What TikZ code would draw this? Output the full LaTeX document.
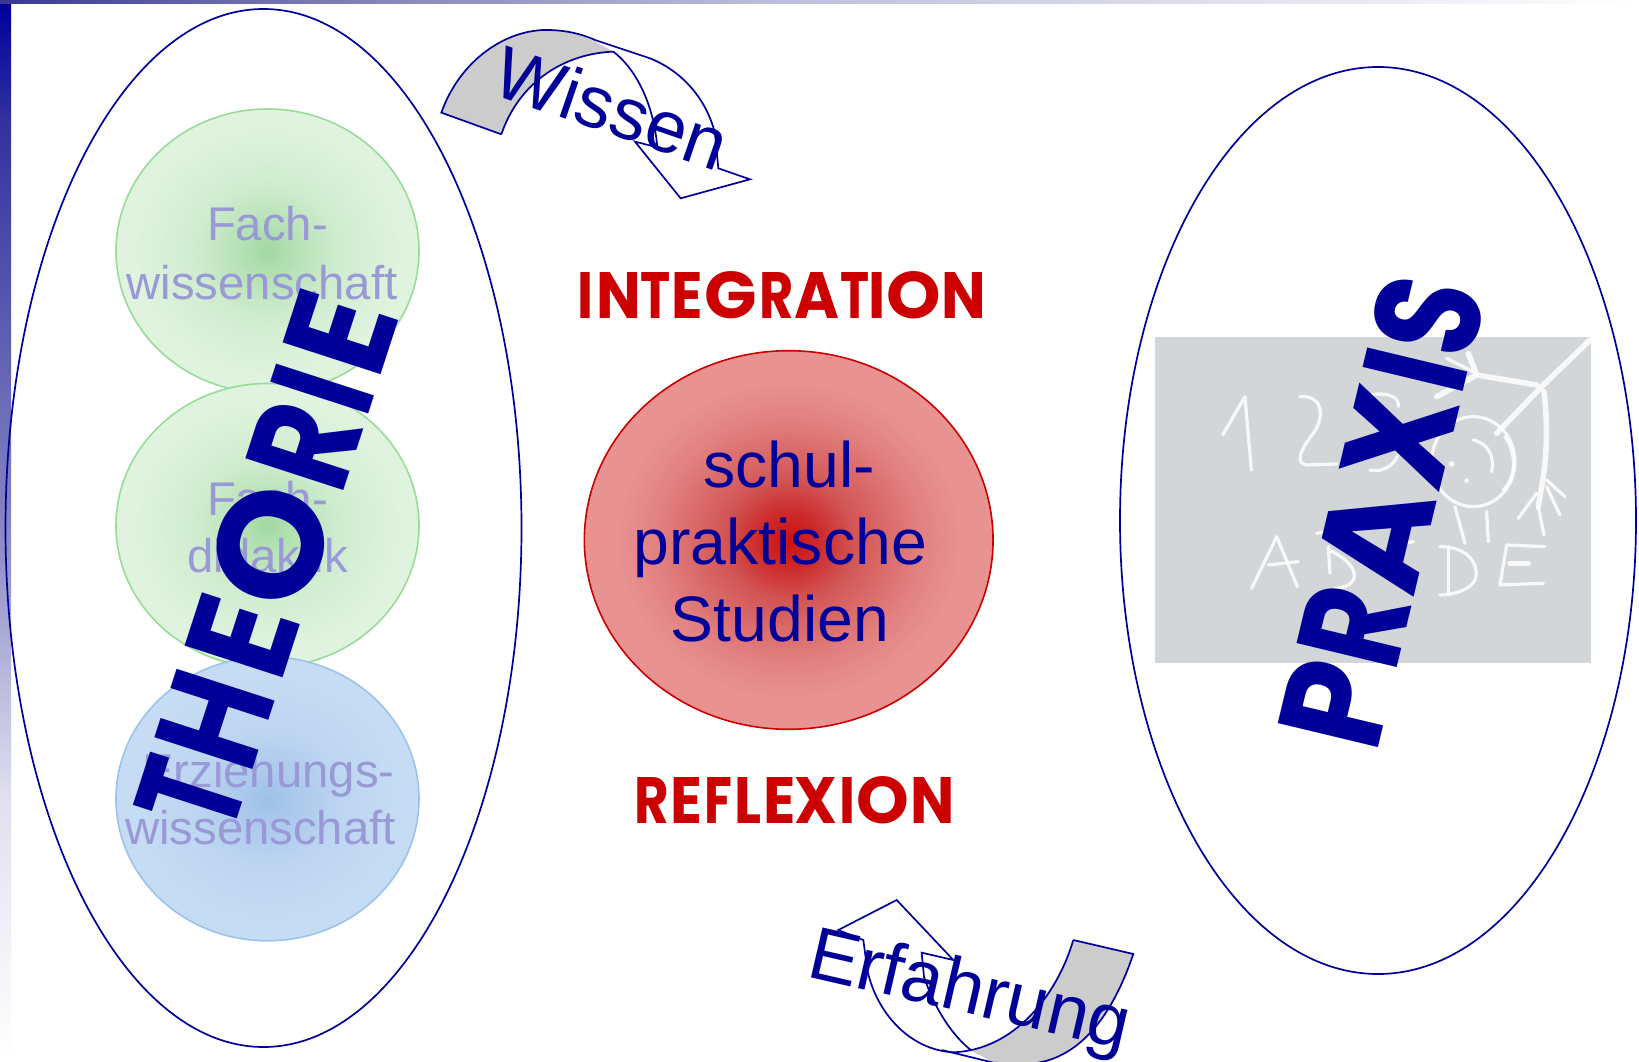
\documentclass[tikz,border=0pt]{standalone}
\usepackage{fontspec}
\setmainfont{Liberation Sans}
\newfontfamily\futfont{Poppins}
\usetikzlibrary{shapes.geometric}
\definecolor{navy}{RGB}{0,0,153}
\definecolor{redt}{RGB}{204,0,0}
\definecolor{fainttext}{RGB}{153,153,214}
\definecolor{gc}{RGB}{163,216,163}
\definecolor{gm}{RGB}{182,226,182}
\definecolor{gn}{RGB}{208,236,208}
\definecolor{go}{RGB}{223,243,223}
\definecolor{gb}{RGB}{153,220,153}
\definecolor{bc}{RGB}{158,192,232}
\definecolor{bm}{RGB}{172,202,236}
\definecolor{bn}{RGB}{188,213,241}
\definecolor{bo}{RGB}{198,220,244}
\definecolor{bb}{RGB}{155,195,235}
\definecolor{rc}{RGB}{204,16,16}
\definecolor{rm}{RGB}{205,45,45}
\definecolor{rl}{RGB}{210,85,85}
\definecolor{rn}{RGB}{226,128,128}
\definecolor{ro}{RGB}{232,146,146}
\definecolor{board}{RGB}{210,214,216}
\definecolor{arrowgray}{RGB}{204,204,204}
\definecolor{b0}{RGB}{0,0,153}
\definecolor{b1}{RGB}{50,50,160}
\definecolor{b2}{RGB}{128,128,192}
\definecolor{b3}{RGB}{225,225,240}
\definecolor{t0}{RGB}{55,55,150}
\definecolor{t1}{RGB}{100,100,170}
\definecolor{t2}{RGB}{140,140,190}
\definecolor{t3}{RGB}{190,190,220}
\pgfdeclareradialshading{gshade}{\pgfpoint{0bp}{0bp}}{color(0bp)=(gc);color(5bp)=(gm);color(12bp)=(gn);color(22bp)=(go);color(50bp)=(go)}
\pgfdeclareradialshading{bshade}{\pgfpoint{0bp}{0bp}}{color(0bp)=(bc);color(5bp)=(bm);color(12bp)=(bn);color(22bp)=(bo);color(50bp)=(bo)}
\pgfdeclareradialshading{rshade}{\pgfpoint{0bp}{0bp}}{color(0bp)=(rc);color(4bp)=(rm);color(8bp)=(rl);color(16bp)=(rn);color(21bp)=(ro);color(50bp)=(ro)}
\pgfdeclareverticalshading{leftbar}{100bp}{color(0bp)=(white);color(25bp)=(white);color(37.35bp)=(b3);color(51.5bp)=(b2);color(69.35bp)=(b1);color(75bp)=(b0);color(100bp)=(b0)}
\pgfdeclarehorizontalshading{topbar}{100bp}{color(0bp)=(t0);color(25bp)=(t0);color(31.1bp)=(t1);color(37.8bp)=(t2);color(48.8bp)=(t3);color(75bp)=(white);color(100bp)=(white)}
% one letter fitted by its ink: start, end, height, letter
\newcommand\fitlet[4]{\rlap{\kern#1pt\pgfmathsetmacro\letw{#2-#1}\resizebox{\letw pt}{#3pt}{\kern-\XeTeXglyphbounds1 \XeTeXcharglyph`#4\relax #4\kern-\XeTeXglyphbounds3 \XeTeXcharglyph`#4\relax}}}
\tikzset{
  bigring/.style={ellipse,draw=navy,line width=1.7pt,inner sep=0pt,minimum width=516pt},
  ball/.style={ellipse,shade,line width=1.6pt,inner sep=0pt,minimum width=303pt,minimum height=284pt},
  faint/.style={text=fainttext,font=\fontsize{47.3}{56}\selectfont,inner sep=0pt,anchor=base},
  navytext/.style={text=navy,font=\fontsize{64.3}{70}\selectfont,inner sep=0pt,anchor=base},
  redhead/.style={text=redt,font=\futfont\bfseries\fontsize{66}{70}\selectfont,inner sep=0pt,anchor=base west},
  bighead/.style={text=navy,font=\futfont\bfseries\fontsize{147}{150}\selectfont,inner sep=0pt,anchor=base west},
  curvy/.style={text=navy,inner sep=0pt,anchor=base west},
  arrowline/.style={draw=navy,line width=1.7pt,line join=miter},
  chalk/.style={draw=white,opacity=.85,line width=3.2pt,line cap=round,line join=round},
  chalkthick/.style={chalk,line width=5.5pt},
}
\begin{document}
\begin{tikzpicture}[x=1pt,y=-1pt]
\useasboundingbox (0,0) rectangle (1639,1062);
\fill[white] (0,0) rectangle (1639,1062);
% slide bars
\shade[shading=leftbar] (0,4) rectangle (11,1062);
\shade[shading=topbar] (0,0) rectangle (1639,4);
% big ellipses
\node[bigring,minimum height=1038pt] (theoryring) at (263.5,528) {};
\node[bigring,minimum height=907pt] (praxisring) at (1378,520.5) {};
% blackboard
\fill[board] (1155,337) rectangle (1591,663);
\begin{scope}[shift={(1140pt,-260pt)},x=.3333pt,y=-.3333pt]
  % digits
  \draw[chalk] (248,525) -- (315,410) -- (334,630);
  \draw[chalk] (480,410) .. controls (550,405) and (555,470) .. (520,520) .. controls (480,570) and (465,610) .. (500,615) -- (590,612);
  \draw[chalk] (690,405) .. controls (740,395) and (780,410) .. (775,440);
  \draw[chalk] (690,630) .. controls (730,640) and (770,610) .. (775,580);
  % child
  \draw[chalk] (1000,605) ellipse [x radius=125, y radius=135];
  \draw[chalk] (1095,530) .. controls (1130,580) and (1130,650) .. (1090,690);
  \draw[chalk] (1000,540) .. controls (1045,550) and (1065,590) .. (1055,635);
  \fill[white,opacity=.85] (935,612) circle [radius=9];
  \fill[white,opacity=.85] (980,662) circle [radius=7];
  \draw[chalk] (945,740) -- (975,850);
  \draw[chalk] (1040,755) -- (1045,845);
  \draw[chalkthick] (1070,520) -- (1210,375) -- (1350,240);
  \draw[chalkthick] (1010,345) -- (1190,375);
  \draw[chalkthick] (985,280) -- (1010,345) -- (890,410);
  \draw[chalk] (920,295) -- (1000,335);
  \draw[chalkthick] (1212,395) .. controls (1225,500) and (1220,600) .. (1205,680) -- (1195,740);
  \draw[chalk] (1195,740) -- (1212,825);
  \draw[chalk] (1220,660) -- (1275,710);
  \draw[chalk] (1220,680) -- (1260,765);
  \draw[chalk] (1190,700) -- (1135,775);
  % letters
  \draw[chalk] (335,985) -- (410,830) -- (472,980);
  \draw[chalk] (385,915) -- (475,905);
  \draw[chalk] (530,820) -- (575,812);
  \draw[chalk] (565,860) -- (570,940);
  \draw[chalk] (565,870) .. controls (660,910) and (670,980) .. (585,985);
  \draw[chalk] (790,850) -- (820,845);
  \draw[chalk] (925,860) -- (925,1000);
  \draw[chalk] (900,860) .. controls (990,860) and (1020,920) .. (1005,960) .. controls (990,990) and (940,1005) .. (900,1005);
  \draw[chalk] (1215,860) -- (1100,855) -- (1080,975) -- (1210,970);
  \draw[chalkthick] (1110,910) -- (1165,910);
\end{scope}
% circles
\node[ball,shading=gshade,draw=gb] (fachball) at (267.5,251) {};
\node[faint] (fw1) at (267.5,240.7) {Fach-};
\node[faint] (fw2) at (262,299) {wissenschaft};
\node[ball,shading=gshade,draw=gb] (didball) at (267.5,525.5) {};
\node[faint] (fd1) at (267.5,515.7) {Fach-};
\node[faint] (fd2) at (267.7,572.7) {didaktik};
\node[ball,shading=bshade,draw=bb] (erzball) at (267.5,798.8) {};
\node[faint] (ew1) at (268.3,787.3) {Erziehungs-};
\node[faint] (ew2) at (260.5,844.3) {wissenschaft};
% red circle
\node[ball,shading=rshade,draw=redt,minimum width=408.7pt,minimum height=378.6pt] (schulball) at (788.7,540) {};
\node[navytext] (s1) at (789.3,487.7) {schul-};
\node[navytext] (s2) at (780.3,564) {praktische};
\node[navytext] (s3) at (780,641) {Studien};
% headings
\node[redhead] (integ) at (581,318) {\fitlet{0}{9.3}{46}{I}\fitlet{19.3}{56.7}{46}{N}\fitlet{61}{88.7}{46}{T}\fitlet{93.7}{118.7}{46}{E}\fitlet{125.3}{173.3}{47}{G}\fitlet{182}{211}{46}{R}\fitlet{214.7}{257.7}{46}{A}\fitlet{260}{286.7}{46}{T}\fitlet{291}{301}{46}{I}\fitlet{307.7}{357.7}{47}{O}\fitlet{363.7}{401}{46}{N}\kern401pt};
\node[redhead] (refl) at (637.3,823.3) {\fitlet{0}{29.3}{46}{R}\fitlet{36.7}{62}{46}{E}\fitlet{70}{93.3}{46}{F}\fitlet{100.3}{122.7}{46}{L}\fitlet{129.3}{155}{46}{E}\fitlet{158.7}{198.7}{46}{X}\fitlet{205}{214.3}{46}{I}\fitlet{221}{269.3}{47}{O}\fitlet{277}{314}{46}{N}\kern314pt};
% Wissen arrow
\begin{scope}[shift={(420pt,0pt)},x=.3333pt,y=-.3333pt]
  \fill[arrowgray] (64,338) .. controls (120,180) and (260,85) .. (390,90) .. controls (470,93) and (530,125) .. (580,155) .. controls (440,160) and (300,240) .. (244,403) -- cycle;
  \draw[arrowline] (244,403) -- (64,338) .. controls (120,180) and (260,85) .. (390,90) .. controls (440,92) and (480,100) .. (525,120) -- (690,175) .. controls (790,215) and (860,300) .. (885,400) -- (895,505) -- (990,538) -- (782,595) -- (645,425) -- (712,442) .. controls (700,300) and (640,200) .. (580,155) .. controls (440,160) and (300,240) .. (244,403);
\end{scope}
% Erfahrung arrow
\begin{scope}[shift={(780pt,-880pt)},x=.3333pt,y=-.3333pt]
  \fill[arrowgray] (880,180) -- (1060,222) .. controls (1000,400) and (900,545) .. (740,552) -- (640,548) -- (575,512) .. controls (700,490) and (830,340) .. (880,180) -- cycle;
  \draw[arrowline] (880,180) -- (1060,222) .. controls (1000,400) and (900,545) .. (740,552) -- (640,548) -- (485,510);
  \draw[arrowline] (880,180) .. controls (830,350) and (700,510) .. (520,517) .. controls (390,510) and (290,400) .. (262,270) -- (250,180) -- (175,150) -- (350,60) -- (520,240) -- (425,218) -- (432,290) .. controls (465,390) and (520,470) .. (575,512);
\end{scope}
% curved-arrow captions
\node[curvy,rotate=-19,font=\fontsize{73.4}{80}\selectfont] (wissen) at (489.5,93) {Wissen};
\node[curvy,rotate=-13,font=\fontsize{74.5}{80}\selectfont] (erfahrung) at (805,976) {Erfahrung};
% big rotated titles
\node[bighead,rotate=72] (theorie) at (231,837) {\fitlet{0}{56}{103}{T}\fitlet{71}{143}{103}{H}\fitlet{167}{223}{103}{E}\fitlet{236}{344}{106}{O}\fitlet{364}{429}{103}{R}\fitlet{445}{464}{103}{I}\fitlet{486}{543}{103}{E}\kern543pt};
\node[bighead,rotate=76.5] (praxis) at (1378,748) {\fitlet{0}{70}{103}{P}\fitlet{82.6}{146}{103}{R}\fitlet{155}{254}{103}{A}\fitlet{262}{352}{103}{X}\fitlet{366}{386}{103}{I}\fitlet{400}{463}{106}{S}\kern463pt};
\end{tikzpicture}
\end{document}
